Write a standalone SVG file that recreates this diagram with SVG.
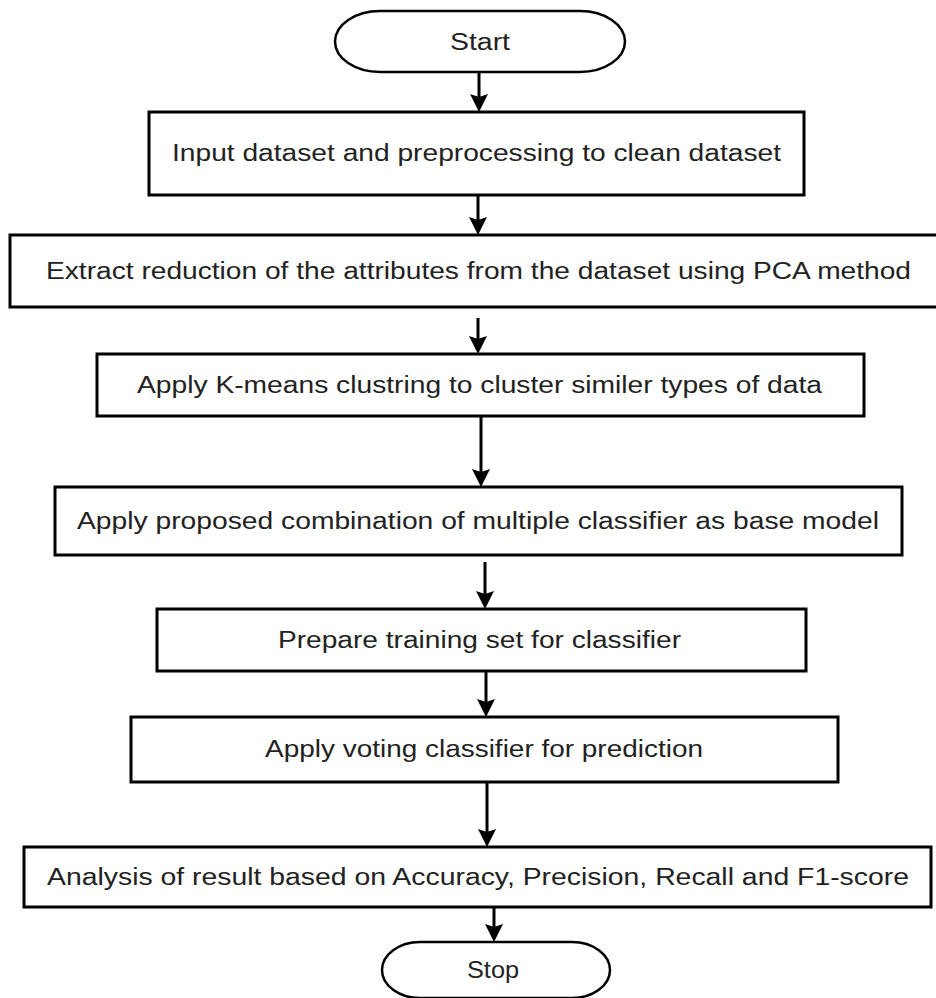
<svg xmlns="http://www.w3.org/2000/svg" width="936" height="998" viewBox="0 0 936 998">
  <style>
    .box { fill: #ffffff; stroke: #000000; stroke-width: 3; }
    .term { fill: #ffffff; stroke: #000000; stroke-width: 2.5; }
    .lbl { font-family: "Liberation Sans", Arial, sans-serif; font-size: 23px; fill: #222222; text-anchor: middle; dominant-baseline: central; }
    .conn { stroke: #000000; stroke-width: 3; fill: none; marker-end: url(#arrow); }
  </style>
  <defs>
    <marker id="arrow" viewBox="0 0 18 18" refX="10" refY="9" markerWidth="18" markerHeight="18" markerUnits="userSpaceOnUse" orient="auto">
      <path d="M0,0 L18,9 L0,18 L3,9 Z" fill="#000000"/>
    </marker>
  </defs>
  <rect width="936" height="998" fill="#ffffff"/>

  <g id="connectors">
    <line class="conn" x1="479" y1="72" x2="479" y2="104"/>
    <line class="conn" x1="478" y1="195" x2="478" y2="227"/>
    <line class="conn" x1="478" y1="318" x2="478" y2="346"/>
    <line class="conn" x1="481" y1="416" x2="481" y2="479"/>
    <line class="conn" x1="485" y1="562" x2="485" y2="601"/>
    <line class="conn" x1="486" y1="671" x2="486" y2="709"/>
    <line class="conn" x1="487" y1="782" x2="487" y2="839"/>
    <line class="conn" x1="494" y1="907" x2="494" y2="934"/>
  </g>

  <g id="start">
    <rect class="term" x="335" y="11" width="290" height="61" rx="45" ry="30.5"/>
    <text class="lbl" x="480" y="42" font-size="24" textLength="60" lengthAdjust="spacingAndGlyphs">Start</text>
  </g>

  <g id="input">
    <rect class="box" x="149" y="112" width="655" height="83"/>
    <text class="lbl" x="476.5" y="153" textLength="609" lengthAdjust="spacingAndGlyphs">Input dataset and preprocessing to clean dataset</text>
  </g>

  <g id="pca">
    <rect class="box" x="10" y="235" width="930" height="72"/>
    <text class="lbl" x="478.5" y="271" textLength="865" lengthAdjust="spacingAndGlyphs">Extract reduction of the attributes from the dataset using PCA method</text>
  </g>

  <g id="kmeans">
    <rect class="box" x="97" y="354" width="767" height="62"/>
    <text class="lbl" x="479.5" y="385" textLength="685" lengthAdjust="spacingAndGlyphs">Apply K-means clustring to cluster similer types of data</text>
  </g>

  <g id="combination">
    <rect class="box" x="55" y="487" width="847" height="68"/>
    <text class="lbl" x="478" y="521" textLength="802" lengthAdjust="spacingAndGlyphs">Apply proposed combination of multiple classifier as base model</text>
  </g>

  <g id="training">
    <rect class="box" x="157" y="609" width="649" height="62"/>
    <text class="lbl" x="479.5" y="640" textLength="403" lengthAdjust="spacingAndGlyphs">Prepare training set for classifier</text>
  </g>

  <g id="voting">
    <rect class="box" x="131" y="717" width="707" height="65"/>
    <text class="lbl" x="484" y="749" textLength="438" lengthAdjust="spacingAndGlyphs">Apply voting classifier for prediction</text>
  </g>

  <g id="analysis">
    <rect class="box" x="24" y="847" width="907" height="60"/>
    <text class="lbl" x="478" y="877" textLength="862" lengthAdjust="spacingAndGlyphs">Analysis of result based on Accuracy, Precision, Recall and F1-score</text>
  </g>

  <g id="stop">
    <rect class="term" x="382" y="942" width="228" height="56" rx="38" ry="28"/>
    <text class="lbl" x="493" y="970" font-size="23" textLength="52" lengthAdjust="spacingAndGlyphs">Stop</text>
  </g>
</svg>
